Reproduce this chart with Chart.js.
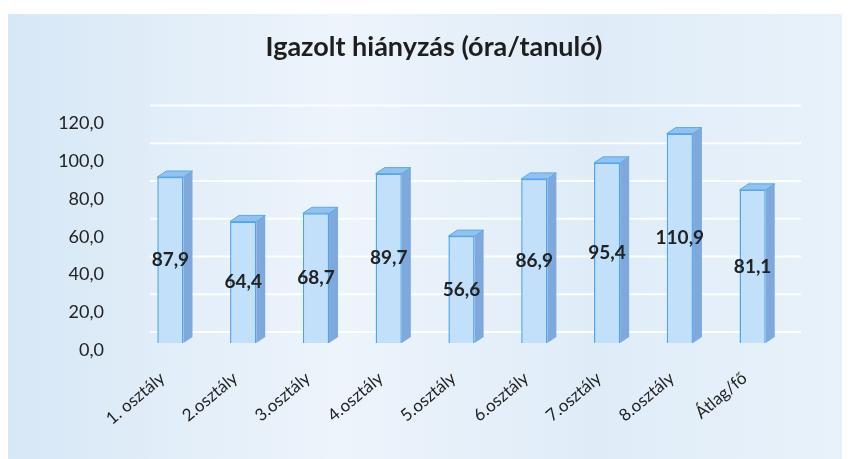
<!DOCTYPE html>
<html>
<head>
<meta charset="utf-8">
<script src="https://cdn.jsdelivr.net/npm/chart.js"></script>
<style>
  body { margin: 0; background: #fff; }
  #wrap { width: 848px; height: 459px; position: relative; }
</style>
</head>
<body>
<div id="wrap"><canvas id="absence-chart"></canvas></div>
<script>
// chart data
const classLabels = ['1. osztály', '2.osztály', '3.osztály', '4.osztály', '5.osztály', '6.osztály', '7.osztály', '8.osztály', 'Átlag/fő'];
const hoursPerStudent = [87.9, 64.4, 68.7, 89.7, 56.6, 86.9, 95.4, 110.9, 81.1];
const yTicks = [0, 20, 40, 60, 80, 100, 120];

// hungarian style decimal comma
function fmt(v) {
  return v.toFixed(1).replace('.', ',');
}

// paints the pale blue scanned-paper background
const backgroundPlugin = {
  id: 'paperBackground',
  beforeDraw(chart) {
    const ctx = chart.ctx;
    ctx.save();
    ctx.fillStyle = '#ffffff';
    ctx.fillRect(0, 0, chart.width, chart.height);
    const g = ctx.createLinearGradient(0, 0, chart.width, 0);
    g.addColorStop(0, '#d6e7f6');
    g.addColorStop(0.4, '#edf4fb');
    g.addColorStop(0.7, '#dfecf8');
    g.addColorStop(1, '#e9f2fa');
    ctx.fillStyle = g;
    ctx.fillRect(8, 14, chart.width - 14, chart.height - 14);
    ctx.restore();
  }
};

// white gridlines on the back wall of the 3d plot
const backWallGrid = {
  id: 'backWallGrid',
  beforeDatasetsDraw(chart) {
    const ctx = chart.ctx;
    const yScale = chart.scales.y;
    const area = chart.chartArea;
    ctx.save();
    ctx.strokeStyle = 'rgba(255,255,255,0.9)';
    ctx.lineWidth = 2;
    yTicks.forEach((v) => {
      const py = yScale.getPixelForValue(v) - 11;
      ctx.beginPath();
      ctx.moveTo(area.left + 16, py);
      ctx.lineTo(area.right + 12, py);
      ctx.stroke();
    });
    ctx.restore();
  }
};

// side + top faces so the columns look 3d, plus the value labels
const columns3d = {
  id: 'columns3d',
  afterDatasetsDraw(chart) {
    const ctx = chart.ctx;
    const meta = chart.getDatasetMeta(0);
    const d = 9;   // depth to the right
    const dy = 6;  // depth upwards
    ctx.save();
    meta.data.forEach((bar, i) => {
      const half = bar.width / 2;
      const left = bar.x - half;
      const right = bar.x + half;
      // side face
      ctx.fillStyle = '#7fa8dd';
      ctx.beginPath();
      ctx.moveTo(right, bar.y);
      ctx.lineTo(right + d, bar.y - dy);
      ctx.lineTo(right + d, bar.base - dy);
      ctx.lineTo(right, bar.base);
      ctx.closePath();
      ctx.fill();
      // top face
      ctx.fillStyle = '#92c2ef';
      ctx.beginPath();
      ctx.moveTo(left, bar.y);
      ctx.lineTo(left + d, bar.y - dy);
      ctx.lineTo(right + d, bar.y - dy);
      ctx.lineTo(right, bar.y);
      ctx.closePath();
      ctx.fill();
      ctx.strokeStyle = '#5aa9e8';
      ctx.lineWidth = 1;
      ctx.stroke();

      // value label in the middle of the column
      ctx.fillStyle = '#222222';
      ctx.font = 'bold 19px Lato';
      ctx.textAlign = 'center';
      ctx.textBaseline = 'middle';
      ctx.fillText(fmt(hoursPerStudent[i]), bar.x, (bar.y + bar.base) / 2);
    });
    ctx.restore();
  }
};

const canvasContext = document.getElementById('absence-chart').getContext('2d');

new Chart(canvasContext, {
  type: 'bar',
  plugins: [backgroundPlugin, backWallGrid, columns3d],
  data: {
    labels: classLabels,
    datasets: [
      {
        label: 'Igazolt hiányzás',
        data: hoursPerStudent,
        yAxisID: 'y',
        backgroundColor: '#c2e0fa',
        borderColor: '#4fa5ea',
        borderWidth: 1.5,
        categoryPercentage: 1,
        barPercentage: 0.36,
      },
    ],
  },
  options: {
    responsive: true,
    maintainAspectRatio: false,
    animation: false,
    layout: {
      padding: { left: 20, right: 0, top: 0, bottom: 0 },
    },
    plugins: {
      legend: { display: false },
      tooltip: { enabled: false },
      title: {
        display: true,
        text: 'Igazolt hiányzás (óra/tanuló)',
        color: '#1e1e1e',
        font: { family: 'Lato', size: 27, weight: 'bold' },
        padding: { top: 31, bottom: 53 },
      },
    },
    scales: {
      y: {
        min: 0,
        max: 120,
        afterFit(scale) {
          scale.width = 114;
        },
        afterBuildTicks(scale) {
          scale.ticks = yTicks.map((v) => ({ value: v }));
        },
        ticks: {
          callback: (v) => fmt(v),
          color: '#222222',
          font: { family: 'Lato', size: 18 },
          padding: 30,
          labelOffset: 7,
        },
        grid: { display: false, drawTicks: false },
        border: { display: false },
      },
      // empty right axis: only reserves the right margin
      yRight: {
        position: 'right',
        min: 0,
        max: 120,
        afterFit(scale) {
          scale.width = 59;
        },
        ticks: { display: false },
        grid: { display: false, drawTicks: false },
        border: { display: false },
      },
      x: {
        afterFit(scale) {
          scale.height = 116;
        },
        ticks: {
          minRotation: 40,
          maxRotation: 40,
          color: '#222222',
          font: { family: 'Lato', size: 17 },
          labelOffset: -8,
          padding: 25,
        },
        grid: { display: false, drawTicks: false },
        border: { display: false },
      },
    },
  },
});
</script>
</body>
</html>
